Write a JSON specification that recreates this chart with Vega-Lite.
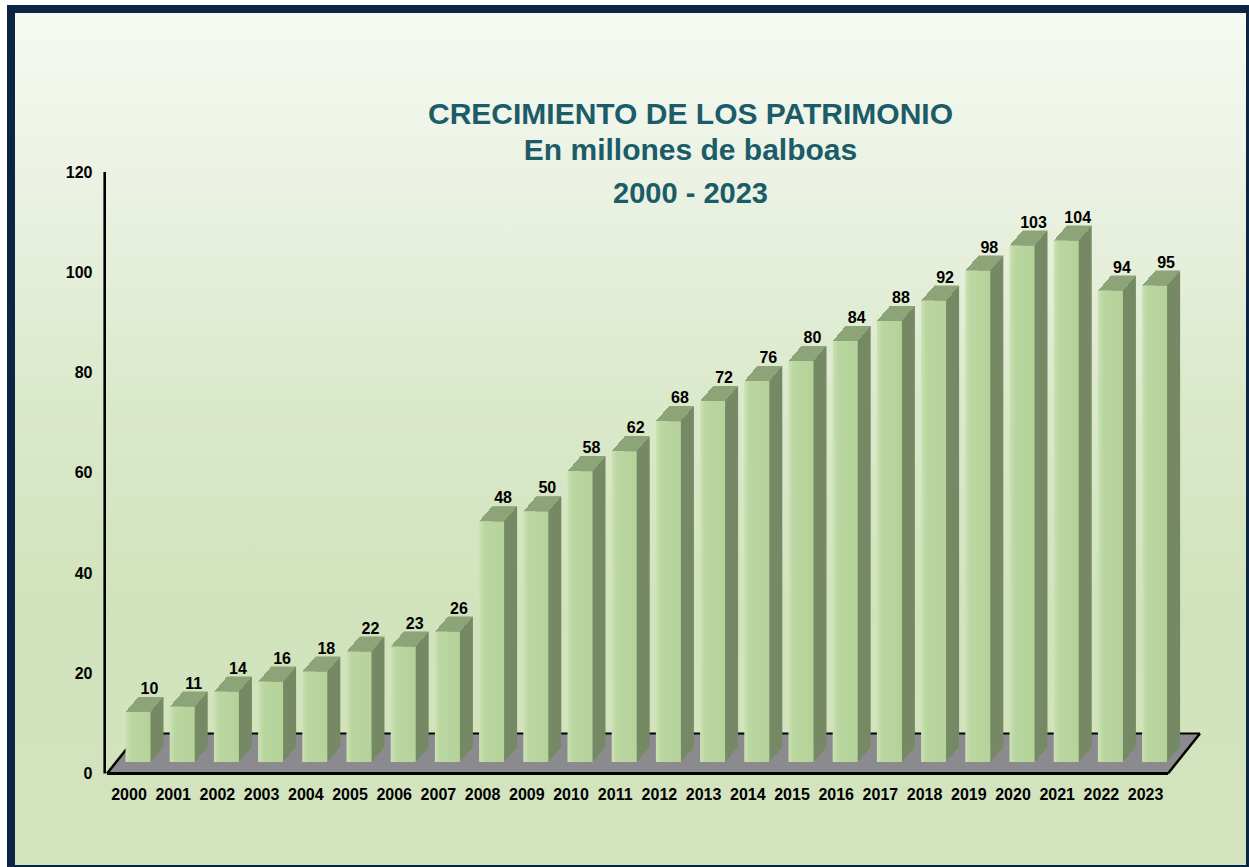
{
  "$schema": "https://vega.github.io/schema/vega-lite/v6.json",
  "width": 1239,
  "height": 860,
  "autosize": {"type": "none"},
  "padding": {"left": 11, "top": 9, "right": 0, "bottom": 0},
  "background": "#ffffff",
  "title": {
    "text": ["CRECIMIENTO DE LOS PATRIMONIO", "En millones de balboas"],
    "subtitle": "2000 - 2023",
    "anchor": "middle",
    "frame": "group",
    "offset": -200,
    "dx": 60,
    "font": "Liberation Sans",
    "fontSize": 30,
    "fontWeight": "bold",
    "color": "#1b5c68",
    "lineHeight": 36,
    "subtitleFont": "Liberation Sans",
    "subtitleFontSize": 29,
    "subtitleFontWeight": "bold",
    "subtitleColor": "#1b5c68",
    "subtitlePadding": 14
  },
  "config": {
    "view": {
      "fill": {"gradient": "linear", "x1": 0, "y1": 0, "x2": 0, "y2": 1,
        "stops": [
          {"offset": 0, "color": "#f6faf2"},
          {"offset": 0.2, "color": "#ebf2e3"},
          {"offset": 0.45, "color": "#dbe9cb"},
          {"offset": 0.7, "color": "#d1e3bc"},
          {"offset": 1, "color": "#d3e4bf"}
        ]},
      "stroke": "#0c2543",
      "strokeWidth": 8
    },
    "axis": {"domain": false, "ticks": false, "grid": false, "titleOpacity": 0, "labelFont": "Liberation Sans", "labelFontSize": 16, "labelFontWeight": "bold", "labelColor": "#000000", "labelOverlap": false, "labelFlush": false}
  },
  "data": {"values": [
    {"year": 2000, "value": 10}, {"year": 2001, "value": 11}, {"year": 2002, "value": 14}, {"year": 2003, "value": 16},
    {"year": 2004, "value": 18}, {"year": 2005, "value": 22}, {"year": 2006, "value": 23}, {"year": 2007, "value": 26},
    {"year": 2008, "value": 48}, {"year": 2009, "value": 50}, {"year": 2010, "value": 58}, {"year": 2011, "value": 62},
    {"year": 2012, "value": 68}, {"year": 2013, "value": 72}, {"year": 2014, "value": 76}, {"year": 2015, "value": 80},
    {"year": 2016, "value": 84}, {"year": 2017, "value": 88}, {"year": 2018, "value": 92}, {"year": 2019, "value": 98},
    {"year": 2020, "value": 103}, {"year": 2021, "value": 104}, {"year": 2022, "value": 94}, {"year": 2023, "value": 95}
  ]},
  "layer": [
    {
      "data": {"values": [{}]},
      "mark": {"type": "rect", "fill": {"gradient": "linear", "x1": 0, "y1": 0, "x2": 1, "y2": 0.029277,
        "stops": [
          {"offset": 0, "color": "rgba(139,139,143,0)"},
          {"offset": 0.02925, "color": "rgba(139,139,143,0)"},
          {"offset": 0.02925, "color": "#8b8b8f"},
          {"offset": 0.99914, "color": "#8b8b8f"},
          {"offset": 0.99914, "color": "rgba(139,139,143,0)"},
          {"offset": 1, "color": "rgba(139,139,143,0)"}
        ]}},
      "encoding": {
        "x": {"datum": 1999.5136, "type": "quantitative", "scale": {"domain": [1997.3416, 2025.3733], "nice": false, "zero": false}},
        "x2": {"datum": 2024.2421},
        "y": {"datum": 0, "type": "quantitative", "scale": {"domain": [-19.052, 152.519], "nice": false, "zero": false}},
        "y2": {"datum": 7.98}
      }
    },
    {
      "data": {"values": [{}]},
      "mark": {"type": "rule", "color": "#000000", "strokeWidth": 2},
      "encoding": {
        "x": {"datum": 2000.2376, "type": "quantitative", "scale": {"domain": [1997.3416, 2025.3733], "nice": false, "zero": false}},
        "x2": {"datum": 2024.2421},
        "y": {"datum": 7.98, "type": "quantitative", "scale": {"domain": [-19.052, 152.519], "nice": false, "zero": false}}
      }
    },
    {
      "data": {"values": [{}]},
      "mark": {"type": "rule", "color": "#000000", "strokeWidth": 2.5},
      "encoding": {
        "x": {"datum": 1999.5136, "type": "quantitative", "scale": {"domain": [1997.3416, 2025.3733], "nice": false, "zero": false}},
        "x2": {"datum": 2000.2376},
        "y": {"datum": 0, "type": "quantitative", "scale": {"domain": [-19.052, 152.519], "nice": false, "zero": false}},
        "y2": {"datum": 7.98}
      }
    },
    {
      "data": {"values": [{}]},
      "mark": {"type": "rule", "color": "#000000", "strokeWidth": 2.5},
      "encoding": {
        "x": {"datum": 2023.5181, "type": "quantitative", "scale": {"domain": [1997.3416, 2025.3733], "nice": false, "zero": false}},
        "x2": {"datum": 2024.2421},
        "y": {"datum": 0, "type": "quantitative", "scale": {"domain": [-19.052, 152.519], "nice": false, "zero": false}},
        "y2": {"datum": 7.98}
      }
    },
    {
      "data": {"values": [{}]},
      "mark": {"type": "rule", "color": "#000000", "strokeWidth": 3},
      "encoding": {
        "x": {"datum": 1999.5136, "type": "quantitative", "scale": {"domain": [1997.3416, 2025.3733], "nice": false, "zero": false}},
        "x2": {"datum": 2023.5181},
        "y": {"datum": 0, "type": "quantitative", "scale": {"domain": [-19.052, 152.519], "nice": false, "zero": false}}
      }
    },
    {
      "data": {"values": [{}]},
      "mark": {"type": "rule", "color": "#000000", "strokeWidth": 2.6},
      "encoding": {
        "x": {"datum": 1999.4615, "type": "quantitative", "scale": {"domain": [1997.3416, 2025.3733], "nice": false, "zero": false}},
        "y": {"datum": 0, "type": "quantitative", "scale": {"domain": [-19.052, 152.519], "nice": false, "zero": false}},
        "y2": {"datum": 120}
      }
    },
    {
      "mark": {"type": "rect", "fill": "#758964", "xOffset": 10, "x2Offset": 35, "yOffset": -26.5, "y2Offset": -26.5},
      "encoding": {
        "x": {"field": "year", "type": "quantitative", "scale": {"domain": [1997.3416, 2025.3733], "nice": false, "zero": false},
          "axis": {"values": [2000,2001,2002,2003,2004,2005,2006,2007,2008,2009,2010,2011,2012,2013,2014,2015,2016,2017,2018,2019,2020,2021,2022,2023], "format": "d", "labelPadding": -82.5, "title": null, "orient": "bottom", "zindex": 2}},
        "x2": {"field": "year"},
        "y": {"field": "value", "type": "quantitative", "scale": {"domain": [-19.052, 152.519], "nice": false, "zero": false},
          "axis": {"values": [0,20,40,60,80,100,120], "format": "d", "labelPadding": -81, "title": null, "orient": "left", "zindex": 2}},
        "y2": {"datum": 0}
      }
    },
    {
      "mark": {"type": "rect", "xOffset": 22, "x2Offset": 35, "yOffset": -26.5, "y2Offset": -11.5,
        "fill": {"gradient": "linear", "x1": 0, "y1": 0, "x2": 1, "y2": 1,
          "stops": [
            {"offset": 0, "color": "#758964"},
            {"offset": 0.5, "color": "#758964"},
            {"offset": 0.5, "color": "rgba(117,137,100,0)"},
            {"offset": 1, "color": "rgba(117,137,100,0)"}
          ]}},
      "encoding": {
        "x": {"field": "year", "type": "quantitative", "scale": {"domain": [1997.3416, 2025.3733], "nice": false, "zero": false}},
        "x2": {"field": "year"},
        "y": {"datum": 0, "type": "quantitative", "scale": {"domain": [-19.052, 152.519], "nice": false, "zero": false}},
        "y2": {"datum": 0}
      }
    },
    {
      "mark": {"type": "rect", "xOffset": -3, "x2Offset": 35, "yOffset": -26.5, "y2Offset": -11.5,
        "fill": {"gradient": "linear", "x1": 0, "y1": 0, "x2": 1, "y2": 0.34211,
          "stops": [
            {"offset": 0, "color": "rgba(141,164,120,0)"},
            {"offset": 0.30627, "color": "rgba(141,164,120,0)"},
            {"offset": 0.30627, "color": "#8da478"},
            {"offset": 0.89522, "color": "#8da478"},
            {"offset": 0.89522, "color": "rgba(141,164,120,0)"},
            {"offset": 1, "color": "rgba(141,164,120,0)"}
          ]}},
      "encoding": {
        "x": {"field": "year", "type": "quantitative", "scale": {"domain": [1997.3416, 2025.3733], "nice": false, "zero": false}},
        "x2": {"field": "year"},
        "y": {"field": "value", "type": "quantitative", "scale": {"domain": [-19.052, 152.519], "nice": false, "zero": false}},
        "y2": {"field": "value"}
      }
    },
    {
      "mark": {"type": "rect", "xOffset": -3, "x2Offset": 22, "yOffset": -11.5, "y2Offset": -11.5,
        "fill": {"gradient": "linear", "x1": 0, "y1": 0, "x2": 1, "y2": 0,
          "stops": [
            {"offset": 0, "color": "#cde2b6"},
            {"offset": 0.2, "color": "#bbd7a1"},
            {"offset": 1, "color": "#b5d29a"}
          ]}},
      "encoding": {
        "x": {"field": "year", "type": "quantitative", "scale": {"domain": [1997.3416, 2025.3733], "nice": false, "zero": false}},
        "x2": {"field": "year"},
        "y": {"field": "value", "type": "quantitative", "scale": {"domain": [-19.052, 152.519], "nice": false, "zero": false}},
        "y2": {"datum": 0}
      }
    },
    {
      "mark": {"type": "text", "font": "Liberation Sans", "fontSize": 16, "fontWeight": "bold", "color": "#000000", "align": "center", "baseline": "alphabetic", "xOffset": 21, "yOffset": -29.5},
      "encoding": {
        "x": {"field": "year", "type": "quantitative", "scale": {"domain": [1997.3416, 2025.3733], "nice": false, "zero": false}},
        "y": {"field": "value", "type": "quantitative", "scale": {"domain": [-19.052, 152.519], "nice": false, "zero": false}},
        "text": {"field": "value", "type": "quantitative"}
      }
    }
  ]
}
